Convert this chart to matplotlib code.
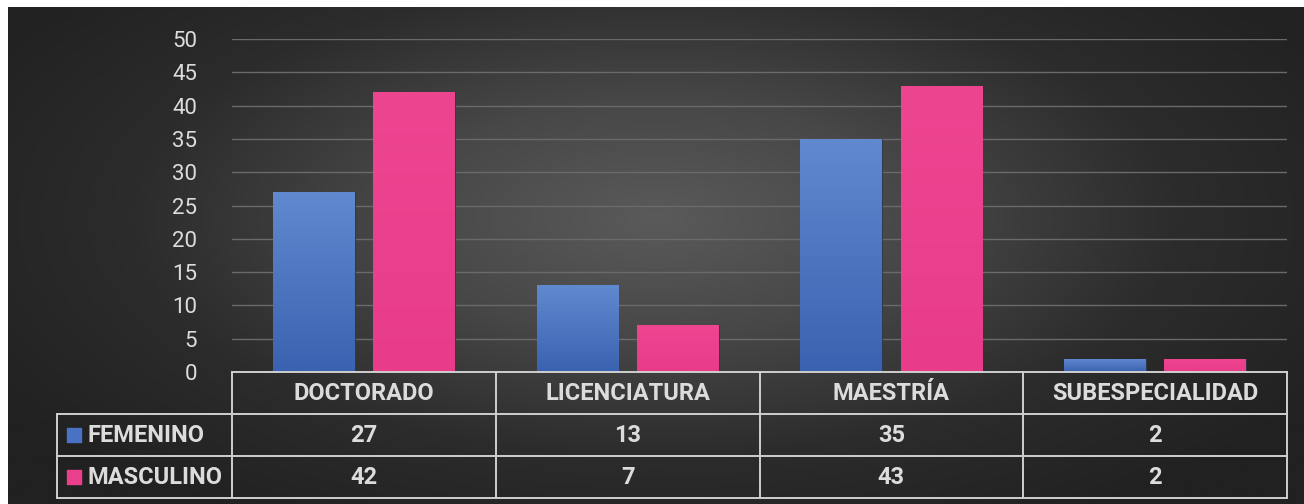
import numpy as np
import matplotlib.pyplot as plt
from matplotlib.colors import LinearSegmentedColormap

# grados academicos por sexo
categorias = ['DOCTORADO', 'LICENCIATURA', 'MAESTRÍA', 'SUBESPECIALIDAD']
series = ['FEMENINO', 'MASCULINO']
femenino = [27, 13, 35, 2]
masculino = [42, 7, 43, 2]
yticks = [0, 5, 10, 15, 20, 25, 30, 35, 40, 45, 50]

W, H = 1304, 504
colores = {'FEMENINO': '#4a72c4', 'MASCULINO': '#ea3f8d'}
degradados = {'FEMENINO': ('#3b62b0', '#6189d0'), 'MASCULINO': ('#e83c8a', '#ee4591')}
texto = '#dcdcdc'
borde = '#cfcfcf'

plt.rcParams['font.family'] = ['Roboto', 'DejaVu Sans']

fig = plt.figure(figsize=(W / 100, H / 100), dpi=100)
fig.patch.set_facecolor('white')

# fondo oscuro con degradado radial
bg = fig.add_axes([8 / W, 0, 1 - 8 / W, 1 - 7 / H])
bg.set_axis_off()
gx, gy = np.meshgrid(np.linspace(-1, 1, 600), np.linspace(-1, 1, 240))
r = np.sqrt((gx / 1.05) ** 2 + ((gy + 0.15) / 1.25) ** 2)
fondo = LinearSegmentedColormap.from_list('fondo', ['#5a5a5a', '#474747', '#2c2c2c', '#212121'])
bg.imshow(r, cmap=fondo, vmin=0, vmax=1.15, aspect='auto', extent=[0, 1, 0, 1], zorder=0)
bg.set_xlim(0, 1)
bg.set_ylim(0, 1)

# area del grafico de barras
x0, x1 = 232, 1287
y0, y1 = 372, 39
ax = fig.add_axes([x0 / W, (H - y0) / H, (x1 - x0) / W, (y0 - y1) / H])
ax.set_facecolor('none')
ax.set_xlim(-0.5, len(categorias) - 0.5)
ax.set_ylim(0, 50)
ax.set_yticks(yticks)
ax.set_yticklabels([str(t) for t in yticks], color=texto, fontsize=16)
ax.tick_params(axis='y', length=0, pad=25)
ax.set_xticks([])
for s in ax.spines.values():
    s.set_visible(False)
ax.grid(axis='y', color='#6a6a6a', linewidth=1)
ax.set_axisbelow(True)

x = np.arange(len(categorias))
ancho = 0.31
sep = 0.38
for valores, nombre, dx in [(femenino, 'FEMENINO', -sep / 2), (masculino, 'MASCULINO', sep / 2)]:
    barras = ax.bar(x + dx, valores, ancho, color=colores[nombre], zorder=2,
                    edgecolor='#2c3440', linewidth=0.6)
    cmap = LinearSegmentedColormap.from_list(nombre, degradados[nombre])
    grad = np.linspace(0, 1, 100).reshape(-1, 1)
    for b in barras:
        im = ax.imshow(grad, cmap=cmap, origin='lower', aspect='auto', zorder=3,
                       extent=[b.get_x(), b.get_x() + b.get_width(), 0, b.get_height()])
        im.set_clip_path(b)
ax.set_xlim(-0.5, len(categorias) - 0.5)
ax.set_ylim(0, 50)

# tabla de datos bajo el eje
t_izq, t_abajo = 57, 498
ancho_px = (x1 - x0) / len(categorias)
izq = -0.5 - (x0 - t_izq) / ancho_px
tax = fig.add_axes([t_izq / W, (H - t_abajo) / H, (x1 - t_izq) / W, (t_abajo - y0) / H])
tax.set_xlim(izq, len(categorias) - 0.5)
tax.set_ylim(3, 0)
tax.set_axis_off()

lw = 1.4
kw = dict(color=borde, lw=lw, clip_on=False, solid_capstyle='projecting')
tax.plot([-0.5, len(categorias) - 0.5], [0, 0], **kw)
for yy in (1, 2, 3):
    tax.plot([izq, len(categorias) - 0.5], [yy, yy], **kw)
tax.plot([izq, izq], [1, 3], **kw)
for k in range(len(categorias) + 1):
    tax.plot([k - 0.5, k - 0.5], [0, 3], **kw)

fs = 17
for i, c in enumerate(categorias):
    tax.text(i, 0.5, c, ha='center', va='center', color=texto, fontsize=fs, fontweight='bold')
for fila, (nombre, valores) in enumerate(zip(series, [femenino, masculino]), start=1):
    tax.scatter([izq + 0.066], [fila + 0.5], marker='s', s=88, color=colores[nombre])
    tax.text(izq + 0.116, fila + 0.5, nombre, ha='left', va='center', color=texto,
             fontsize=fs, fontweight='bold')
    for i, v in enumerate(valores):
        tax.text(i, fila + 0.5, str(v), ha='center', va='center', color=texto,
                 fontsize=fs, fontweight='bold')

fig.savefig('out.png', dpi=100, facecolor=fig.get_facecolor())
